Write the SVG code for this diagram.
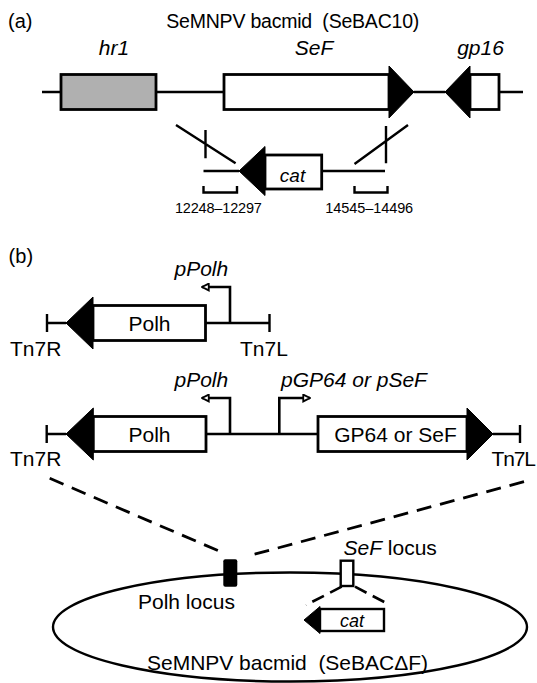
<svg xmlns="http://www.w3.org/2000/svg" width="537" height="683" viewBox="0 0 537 683">
  <style>
    text { font-family: "Liberation Sans", Arial, sans-serif; fill: #000; }
    .it { font-style: italic; }
    .f21 { font-size: 21px; }
    .box { fill: #fff; stroke: #000; stroke-width: 2.8; }
    .hr { fill: #b0b0b0; stroke: #000; stroke-width: 2.8; }
    .tri { fill: #000; stroke: #000; stroke-width: 1; stroke-linejoin: miter; }
    .ln { fill: none; stroke: #000; stroke-width: 2.4; }
    .prom { fill: none; stroke: #000; stroke-width: 2.6; marker-end: url(#promHead); }
    .dash { fill: none; stroke: #000; stroke-width: 2.8; stroke-dasharray: 15 9; }
    .sdash { fill: none; stroke: #000; stroke-width: 2.6; stroke-dasharray: 13 7; }
  </style>
  <defs>
    <marker id="promHead" viewBox="0 0 10 10" refX="9" refY="5" markerWidth="9" markerHeight="9" markerUnits="userSpaceOnUse" orient="auto">
      <path d="M1.5,1.2 L9,5 L1.5,8.8 z" fill="#fff" stroke="#000" stroke-width="2"/>
    </marker>
  </defs>
  <rect width="537" height="683" fill="#fff"/>

  <!-- panel (a): SeBAC10 region -->
  <text x="8" y="28" font-size="20">(a)</text>
  <text x="292.8" y="28" font-size="19.5" text-anchor="middle" textLength="253" style="white-space:pre">SeMNPV bacmid  (SeBAC10)</text>

  <g id="connectors">
    <!-- backbone -->
    <path class="ln" d="M42,92 H61 M156,92 H224 M414,92 H445 M499,92 H523"/>
    <!-- recombination crossovers -->
    <path class="ln" d="M176,125 L235.6,163.3 M205.5,130 V158.3 M408,125 L354.5,164 M386,126 V163.3"/>
    <!-- cat cassette flanks -->
    <path class="ln" d="M203.5,171 H239 M321.7,171 H385"/>
    <!-- homology brackets -->
    <path class="ln" d="M203.5,186 V192.5 H237 V186 M354.5,186 V192.5 H387.5 V186"/>

    <!-- panel (b) donor constructs -->
    <path class="ln" d="M47,314 V332 M47,323 H66 M205.5,323 H269.5 M269.5,314 V332"/>
    <path class="prom" d="M230,323 V287 H202"/>
    <path class="ln" d="M46.7,425 V443 M46.7,434 H66 M206,434 H318 M493,434 H520 M520,425 V443"/>
    <path class="prom" d="M230,434 V398 H202"/>
    <path class="prom" d="M279.3,434 V398 H310"/>

    <!-- transposition to the Polh locus -->
    <path class="dash" d="M49.7,478.3 L224.3,553.3"/>
    <path class="dash" d="M524,481.7 L251.7,555"/>
    <!-- SeF locus replaced by cat -->
    <path class="sdash" d="M341.7,586.7 L306,605"/>
    <path class="sdash" d="M355,586.7 L386.7,603.3"/>
  </g>

  <g id="hr1">
    <rect class="hr" x="61" y="74.5" width="95" height="35"/>
    <text class="it f21" x="114" y="55" text-anchor="middle">hr1</text>
  </g>
  <g id="sef">
    <rect class="box" x="224" y="74.5" width="165" height="35"/>
    <polygon class="tri" points="389,66 414,92 389,118"/>
    <text class="it f21" x="314" y="55" text-anchor="middle">SeF</text>
  </g>
  <g id="gp16">
    <polygon class="tri" points="445,92 470,66 470,118"/>
    <rect class="box" x="470" y="74.5" width="29" height="35"/>
    <text class="it f21" x="480.5" y="55" text-anchor="middle">gp16</text>
  </g>
  <g id="cat-cassette">
    <polygon class="tri" points="239,171 265,146.5 265,195.5"/>
    <rect class="box" x="265" y="155" width="56.7" height="34"/>
    <text class="it" x="292.5" y="181.5" font-size="19" text-anchor="middle">cat</text>
  </g>
  <g id="homology-left">
    <text x="218.4" y="213" font-size="14.5" text-anchor="middle" textLength="87">12248–12297</text>
  </g>
  <g id="homology-right">
    <text x="369.2" y="213" font-size="14.5" text-anchor="middle" textLength="88">14545–14496</text>
  </g>

  <!-- panel (b) -->
  <text x="8.6" y="263" font-size="20">(b)</text>

  <g id="donor-polh">
    <polygon class="tri" points="66,323 93,297 93,349"/>
    <rect class="box" x="93" y="305.5" width="112.5" height="35"/>
    <text class="f21" x="149.5" y="330.5" text-anchor="middle">Polh</text>
    <text class="it f21" x="174.5" y="276">pPolh</text>
    <text class="f21" x="10" y="356">Tn7R</text>
    <text class="f21" x="240" y="356">Tn7L</text>
  </g>

  <g id="donor-gp64-sef">
    <polygon class="tri" points="66,434 93.3,408 93.3,460"/>
    <rect class="box" x="93.3" y="416.5" width="112.7" height="35"/>
    <text class="f21" x="149.5" y="441.7" text-anchor="middle">Polh</text>
    <rect class="box" x="318" y="416.5" width="149" height="35"/>
    <polygon class="tri" points="467,408 493,434 467,460"/>
    <text class="f21" x="395.5" y="441.7" text-anchor="middle">GP64 or SeF</text>
    <text class="it f21" x="174.5" y="387">pPolh</text>
    <text class="it f21" x="281" y="387">pGP64 or pSeF</text>
    <text class="f21" x="10" y="466">Tn7R</text>
    <text class="f21" x="491.5" y="466" textLength="44.5">Tn7L</text>
  </g>

  <g id="bacmid">
    <ellipse class="ln" cx="290" cy="627" rx="237" ry="54.5"/>
    <text class="f21" x="287.5" y="670" text-anchor="middle" textLength="281" style="white-space:pre">SeMNPV bacmid  (SeBACΔF)</text>
  </g>
  <g id="polh-locus">
    <rect x="223.3" y="559.3" width="14" height="27.4" rx="2" fill="#000"/>
    <text class="f21" x="138" y="609">Polh locus</text>
  </g>
  <g id="sef-locus">
    <rect x="340.7" y="560.7" width="12.6" height="25.3" fill="#fff" stroke="#000" stroke-width="2.4"/>
    <text class="f21" x="343.5" y="554.5"><tspan class="it">SeF</tspan> locus</text>
  </g>
  <g id="cat-insert">
    <polygon class="tri" points="304,620 320,606.5 320,633.5"/>
    <rect x="320" y="609" width="64" height="22" fill="#fff" stroke="#000" stroke-width="2.4"/>
    <text class="it" x="352" y="626.5" font-size="18" text-anchor="middle">cat</text>
  </g>
</svg>
